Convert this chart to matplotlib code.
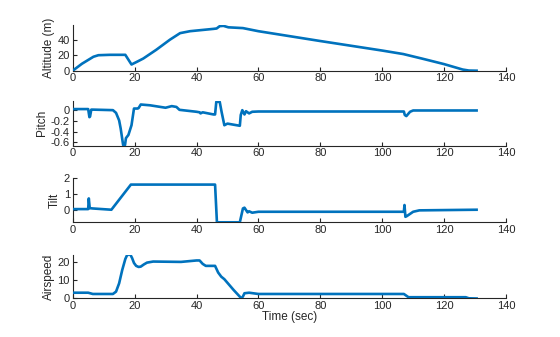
import numpy as np
import matplotlib
matplotlib.use("Agg")
import matplotlib.pyplot as plt

plt.rcParams['font.family'] = ['Liberation Sans', 'DejaVu Sans']

# Altitude (m)
alt_t = [0, 3, 6.7, 8.3, 12, 17, 19, 21, 22.8, 27, 31.4, 34.7, 37.9, 45.5, 46.5, 47.5, 48.7, 50.3, 55, 60, 80, 100, 106.8, 113, 120, 126, 128, 130.5]
alt_v = [0, 9, 18, 20, 20.5, 20.5, 8, 12, 15.7, 27, 40, 48.5, 51, 54, 54.5, 57.5, 57.9, 56, 55, 51, 38.3, 26, 21.5, 15.5, 8.5, 1.5, 0.2, 0]

# Pitch
pit_t = [0, 5, 5.4, 5.6, 6.0, 6.5, 13, 14, 15, 15.5, 16.3, 16.9, 17.2, 18, 19, 19.8, 21, 21.3, 22, 25, 30, 32, 33.5, 34.5, 40, 41, 41.3, 42, 45.5, 46, 46.4, 47.5, 48.1, 49, 50, 54, 54.3, 54.8, 55.5, 56, 57, 58, 60, 107, 107.3, 107.8, 109, 110, 130.5]
pit_v = [0.02, 0.02, -0.13, -0.12, 0.01, 0.01, 0.0, -0.05, -0.19, -0.34, -0.65, -0.65, -0.52, -0.46, -0.28, 0.03, 0.03, 0.04, 0.105, 0.09, 0.045, 0.075, 0.06, 0.006, -0.03, -0.04, -0.06, -0.04, -0.08, -0.08, 0.155, 0.155, -0.03, -0.28, -0.25, -0.29, -0.09, 0.0, -0.08, -0.02, -0.06, -0.03, -0.025, -0.025, -0.09, -0.11, -0.03, -0.006, -0.006]

# Tilt
tilt_t = [0, 5, 5.2, 5.5, 6.5, 12.5, 18.8, 46, 46.6, 54.0, 55, 55.5, 56.5, 57, 58, 60, 107, 107.2, 107.5, 108, 110, 112, 130.5]
tilt_v = [0.04, 0.04, 0.72, 0.1, 0.08, 0.0, 1.6, 1.6, -0.8, -0.8, 0.08, 0.13, -0.17, -0.1, -0.19, -0.13, -0.13, 0.3, -0.45, -0.4, -0.13, -0.04, 0.0]

# Airspeed
air_t = [0, 5, 6.5, 13, 14, 15, 16, 17, 17.5, 18.1, 18.7, 19.2, 19.8, 20.5, 21.3, 22, 23, 24, 26, 35, 40, 41, 42, 43, 46, 47, 48, 49, 52, 54, 54.5, 55, 55.5, 57, 60, 107, 108.5, 110, 127, 128, 130.5]
air_v = [3.1, 3.1, 2.4, 2.4, 3.7, 8.3, 15.7, 21.8, 23.7, 24.4, 24.0, 22.3, 19.6, 18.0, 17.4, 17.6, 18.8, 19.8, 20.4, 20.2, 21.0, 21.0, 19.1, 18, 18, 14.3, 12, 10.6, 4.6, 0.9, 0.0, 1.0, 2.8, 3.1, 2.4, 2.4, 0.6, 0.6, 0.6, 0.0, -0.1]

labels = ["Altitude (m)", "Pitch", "Tilt", "Airspeed"]
series = [(alt_t, alt_v), (pit_t, pit_v), (tilt_t, tilt_v), (air_t, air_v)]
ylims = [(0, 59), (-0.66, 0.17), (-0.8, 2), (0, 24.2)]
yticks = [[0, 20, 40], [-0.6, -0.4, -0.2, 0], [0, 1, 2], [0, 10, 20]]
ytl = [["0", "20", "40"], ["-0.6", "-0.4", "-0.2", "0"], ["0", "1", "2"], ["0", "10", "20"]]

W, H = 560, 337
# pixel boxes: (top, bottom)
boxes = [(25, 70.7), (101, 145.7), (178.3, 222.3), (254.7, 298.3)]
left, right = 72.7, 506

fig = plt.figure(figsize=(W / 100, H / 100), dpi=100)
color = '#0072BD'
for i, ((t, v), (top, bot)) in enumerate(zip(series, boxes)):
    ax = fig.add_axes([left / W, 1 - bot / H, (right - left) / W, (bot - top) / H])
    ax.plot(t, v, color=color, linewidth=1.9, zorder=3)
    ax.set_xlim(0, 140)
    ax.set_ylim(*ylims[i])
    ax.set_xticks(range(0, 141, 20))
    ax.set_yticks(yticks[i])
    ax.set_yticklabels(ytl[i])
    for s in ['top', 'right']:
        ax.spines[s].set_visible(False)
    for s in ['left', 'bottom']:
        ax.spines[s].set_linewidth(0.8)
        ax.spines[s].set_color('#262626')
    ax.tick_params(direction='in', length=3, width=0.8, labelsize=8, colors='#262626', pad=2)
    ax.set_ylabel(labels[i], fontsize=8.5, color='#262626', labelpad=2)
    if i == 3:
        ax.set_xlabel("Time (sec)", fontsize=8.5, color='#262626', labelpad=0)

fig.savefig("out.png", dpi=100)
